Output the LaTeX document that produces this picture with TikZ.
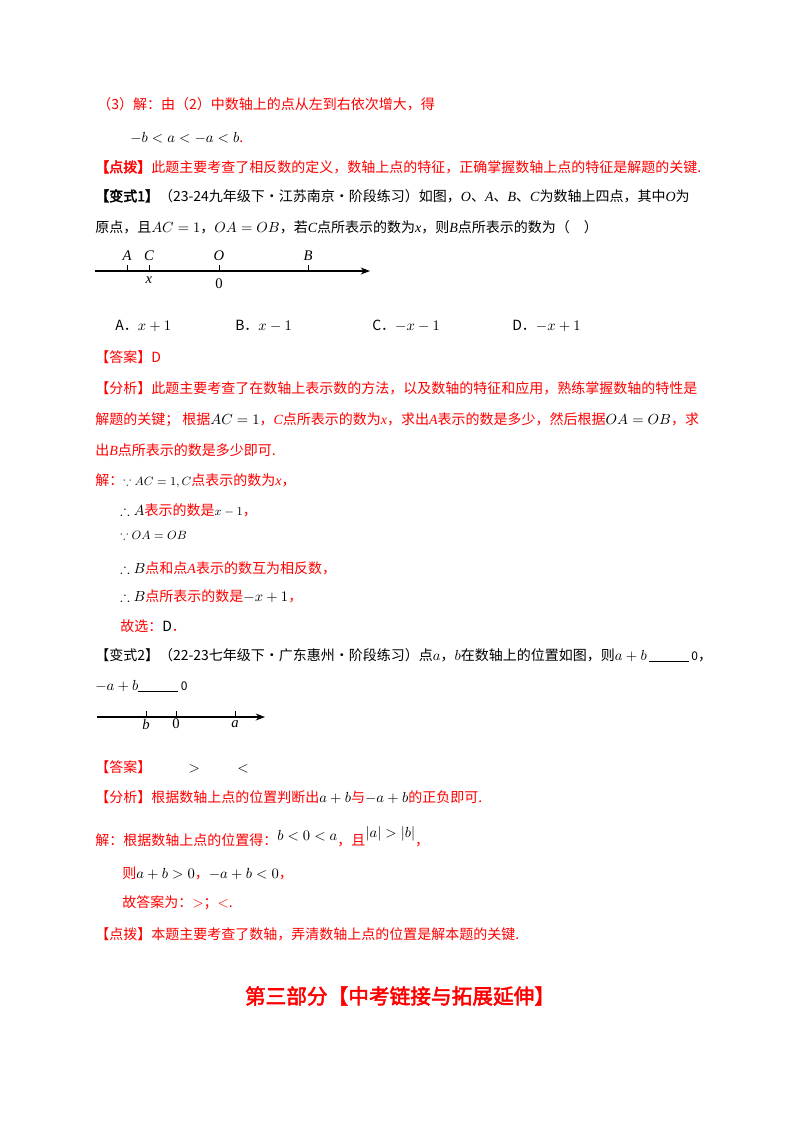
\documentclass[tikz,border=0pt]{standalone}
\usepackage{amssymb}
\usepackage{fontspec}
\usetikzlibrary{arrows.meta}
\setmainfont{Liberation Serif}
\newfontfamily\cjk{Noto Sans CJK SC}
\newfontfamily\cjkb{Noto Sans CJK SC}[FakeBold=2.5]
\newcommand\vv[1]{{\normalfont\itshape #1}}
\definecolor{rd}{RGB}{255,0,0}
\begin{document}
\begin{tikzpicture}[x=0.75pt,y=-0.75pt,
  t/.style={anchor=west,inner sep=0,font=\cjk\fontsize{10.5pt}{12pt}\selectfont},
  r/.style={t,text=rd},
  lab/.style={inner sep=0,font=\fontsize{11pt}{12pt}\selectfont\itshape},
  ax/.style={line width=0.8pt,-{Stealth[length=7pt]}}]
\useasboundingbox (0,0) rectangle (800,1132);
\fill[white] (0,0) rectangle (800,1132);
\node[r] (l1) at (97,104) {（3）解：由（2）中数轴上的点从左到右依次增大，得};
\node[t] (l2) at (130,138) {$-b<a<-a<b$\textcolor{rd}{.}};
\node[r] (l3) at (95,167) {{\cjkb 【点拨】}此题主要考查了相反数的定义，数轴上点的特征，正确掌握数轴上点的特征是解题的关键.};
\node[t] (l4) at (95,196) {{\cjkb 【变式1】}（23-24九年级下·江苏南京·阶段练习）如图，\vv{O}、\vv{A}、\vv{B}、\vv{C}为数轴上四点，其中\vv{O}为};
\node[t] (l5) at (95,227) {原点，且$AC=1$，$OA=OB$，若\vv{C}点所表示的数为\vv{x}，则\vv{B}点所表示的数为（\quad ）};
% number line 1
\coordinate (s1) at (95,271); \coordinate (e1) at (370,271);
\draw[ax] (s1) -- (e1);
\foreach \n/\xx in {A/127,C/149,O/219,B/308}{
  \draw (\xx,271) -- (\xx,265);
  \node[lab] (p\n) at (\xx,256) {\n};}
\node[lab] (px) at (149,280) {x};
\node[inner sep=0,font=\fontsize{11pt}{12pt}\selectfont] (p0) at (219,284) {0};
\node[t] (oA) at (115,326) {A．$x+1$};
\node[t] (oB) at (235,326) {B．$x-1$};
\node[t] (oC) at (372,326) {C．$-x-1$};
\node[t] (oD) at (512,326) {D．$-x+1$};
\node[r] (l6) at (95,357) {【答案】D};
\node[r] (l7) at (95,388) {【分析】此题主要考查了在数轴上表示数的方法，以及数轴的特征和应用，熟练掌握数轴的特性是};
\node[r] (l8) at (95,420) {解题的关键；\ 根据\textcolor{black}{$AC=1$}，\vv{C}点所表示的数为\vv{x}，求出\vv{A}表示的数是多少，然后根据\textcolor{black}{$OA=OB$}，求};
\node[r] (l9) at (95,450) {出\vv{B}点所表示的数是多少即可.};
\node[r] (l10) at (95,481) {解：\textcolor{black}{\small$\because AC=1,C$}点表示的数为\vv{x}，};
\node[r] (l11) at (120,510) {\textcolor{black}{$\therefore A$}表示的数是\textcolor{black}{\small$x-1$}，};
\node[t] (l12) at (120,535) {\small$\because OA=OB$};
\node[r] (l13) at (120,568) {\textcolor{black}{$\therefore B$}点和点\vv{A}表示的数互为相反数，};
\node[r] (l14) at (120,596) {\textcolor{black}{$\therefore B$}点所表示的数是\textcolor{black}{$-x+1$}，};
\node[r] (l15) at (120,626) {故选：\textcolor{black}{D}．};
\node[t] (l16) at (95,655) {【变式2】（22-23七年级下·广东惠州·阶段练习）点$a$，$b$在数轴上的位置如图，则$a+b$\,\rule[-1pt]{30pt}{0.6pt}\,{\small 0}，};
\node[t] (l17) at (95,686) {$-a+b$\rule[-1pt]{30pt}{0.6pt}\,{\small 0}};
% number line 2
\coordinate (s2) at (97,717); \coordinate (e2) at (265,717);
\draw[ax] (s2) -- (e2);
\foreach \n/\xx in {b/146,a/235}{
  \draw (\xx,717) -- (\xx,711);
  \node[lab] (q\n) at (\xx,724) {\n};}
\draw (176,717) -- (176,711);
\node[inner sep=0,font=\fontsize{11pt}{12pt}\selectfont] (q0) at (176,724) {0};
\node[r] (l18) at (95,767) {【答案】\hspace{28pt}\textcolor{black}{$>$}\hspace{28pt}\textcolor{black}{$<$}};
\node[r] (l19) at (95,797) {【分析】根据数轴上点的位置判断出\textcolor{black}{$a+b$}与\textcolor{black}{$-a+b$}的正负即可.};
\node[r] (l20) at (95,837) {解：根据数轴上点的位置得：\textcolor{black}{\raisebox{4pt}{$b<0<a$}}，且\textcolor{black}{\raisebox{6pt}{$|a|>|b|$}}，};
\node[r] (l21) at (122,873) {则\textcolor{black}{$a+b>0$}，\textcolor{black}{$-a+b<0$}，};
\node[r] (l22) at (122,903) {故答案为：$>$；$<$.};
\node[r] (l23) at (95,934) {【点拨】本题主要考查了数轴，弄清数轴上点的位置是解本题的关键.};
\node[inner sep=0,text=rd,font=\cjkb\fontsize{15.5pt}{18pt}\selectfont] (title) at (400,996) {第三部分【中考链接与拓展延伸】};
\end{tikzpicture}
\end{document}
